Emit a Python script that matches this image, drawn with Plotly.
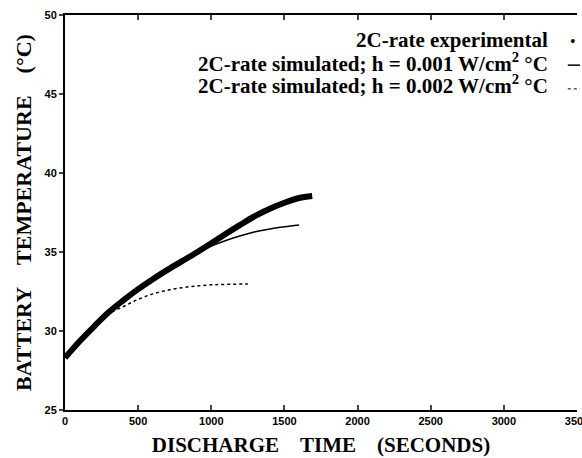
import plotly.graph_objects as go

exp_t = [0, 100, 200, 300, 400, 500, 600, 700, 800, 900, 1000, 1100, 1200, 1300, 1400, 1500, 1600, 1690]
exp_T = [28.3, 29.35, 30.3, 31.2, 31.95, 32.65, 33.28, 33.87, 34.42, 34.97, 35.55, 36.15, 36.73, 37.28, 37.74, 38.12, 38.42, 38.55]

# Simulated h = 0.001
sim1_t = [0, 100, 200, 300, 400, 500, 600, 700, 800, 900, 1000, 1100, 1200, 1300, 1400, 1500, 1600]
sim1_T = [28.3, 29.35, 30.3, 31.2, 31.95, 32.65, 33.28, 33.87, 34.42, 34.95, 35.38, 35.73, 36.03, 36.28, 36.46, 36.6, 36.71]

# Simulated h = 0.002
sim2_t = [0, 100, 200, 300, 400, 500, 600, 700, 800, 900, 1000, 1100, 1250]
sim2_T = [28.3, 29.35, 30.3, 31.1, 31.55, 32.0, 32.35, 32.58, 32.74, 32.85, 32.92, 32.95, 32.98]

x_ticks = [0, 500, 1000, 1500, 2000, 2500, 3000, 3500]
y_ticks = [25, 30, 35, 40, 45, 50]

legend_labels = [
    "2C-rate experimental",
    "2C-rate simulated; h = 0.001 W/cm<sup>2</sup> °C",
    "2C-rate simulated; h = 0.002 W/cm<sup>2</sup> °C",
]

serif = "Liberation Serif, Times New Roman, serif"
sans = "Liberation Sans, Arial, sans-serif"
sp = "\u00a0" * 4

fig = go.Figure()
fig.add_trace(go.Scatter(x=sim2_t, y=sim2_T, mode="lines",
                         line=dict(color="black", width=1.5, dash="dot", shape="spline"), showlegend=False))
fig.add_trace(go.Scatter(x=sim1_t, y=sim1_T, mode="lines",
                         line=dict(color="black", width=1.5, shape="spline"), showlegend=False))
fig.add_trace(go.Scatter(x=exp_t, y=exp_T, mode="lines",
                         line=dict(color="black", width=6, shape="spline"), showlegend=False))

fig.update_layout(
    width=582, height=458,
    margin=dict(l=65, r=5, t=15, b=48),
    paper_bgcolor="white", plot_bgcolor="white",
    xaxis=dict(range=[0, 3500], tickvals=x_ticks, ticks="inside", ticklen=5, tickwidth=1.5,
               showline=True, linecolor="black", linewidth=2, mirror="ticks", showgrid=False,
               zeroline=False, ticklabeloverflow="allow", automargin=False,
               tickfont=dict(family=sans, size=11, color="black", weight="bold"),
               title=dict(text="DISCHARGE" + sp + "TIME" + sp + "(SECONDS)",
                          font=dict(family=serif, size=21, color="black", weight="bold"),
                          standoff=11)),
    yaxis=dict(range=[25, 50], tickvals=y_ticks, ticks="outside", ticklen=4, tickwidth=1.5,
               showline=True, linecolor="black", linewidth=2, showgrid=False, zeroline=False,
               automargin=False,
               tickfont=dict(family=sans, size=11, color="black", weight="bold"),
               title=dict(text="BATTERY" + sp + "TEMPERATURE" + sp + "(°C)",
                          font=dict(family=serif, size=22, color="black", weight="bold"),
                          standoff=7)),
)

rows_y = [0.937, 0.881, 0.825]
for lab, yy in zip(legend_labels, rows_y):
    fig.add_annotation(xref="paper", yref="paper", x=0.947, y=yy, text=lab, showarrow=False,
                       xanchor="right", yanchor="middle",
                       font=dict(family=serif, size=21, color="black", weight="bold"))

# legend symbols
fig.add_annotation(xref="paper", yref="paper", x=0.992, y=rows_y[0] - 0.005, text="•", showarrow=False,
                   xanchor="center", yanchor="middle", font=dict(family=serif, size=16, color="black"))
fig.add_shape(type="line", xref="paper", yref="paper", x0=0.982, x1=1.006, y0=rows_y[1] - 0.008,
              y1=rows_y[1] - 0.008, line=dict(color="black", width=1.5))
fig.add_shape(type="line", xref="paper", yref="paper", x0=0.982, x1=1.006, y0=rows_y[2] - 0.012,
              y1=rows_y[2] - 0.012, line=dict(color="black", width=1, dash="dot"))

fig.write_html("out.html")
